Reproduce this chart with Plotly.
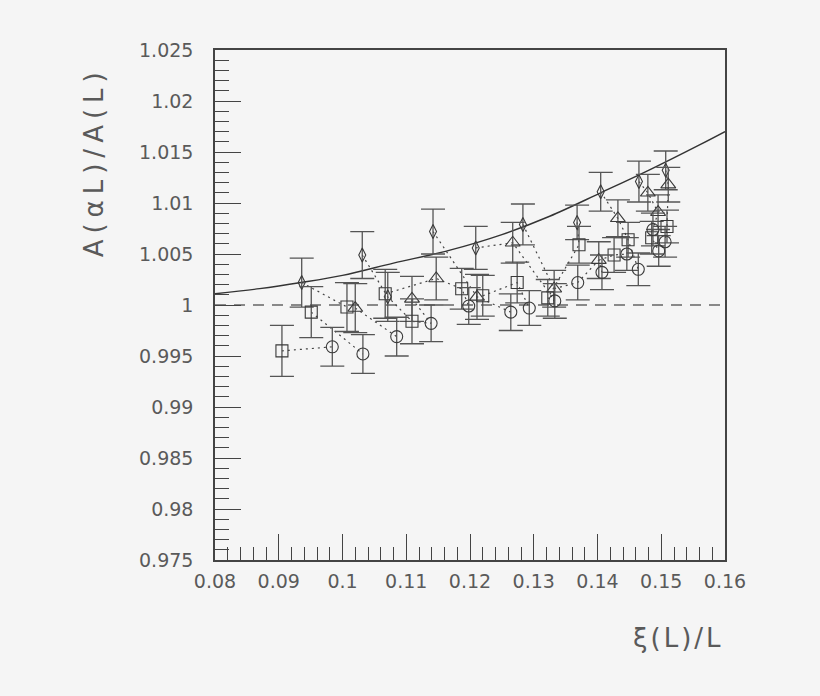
import plotly.graph_objects as go

# ---- data ----
# diamonds
d_x = [0.0936, 0.1031, 0.1071, 0.1142, 0.1209, 0.1283, 0.1368, 0.1405, 0.1465, 0.1507]
d_y = [1.0022, 1.0049, 1.0008, 1.0072, 1.0056, 1.0079, 1.0081, 1.0111, 1.0121, 1.0132]
d_e = [0.0024, 0.0023, 0.0024, 0.0022, 0.0021, 0.0020, 0.0017, 0.0019, 0.0020, 0.0019]
# triangles
t_x = [0.1020, 0.1109, 0.1147, 0.1211, 0.1267, 0.1332, 0.1402, 0.1432, 0.1479, 0.1495, 0.1511]
t_y = [0.9997, 1.0006, 1.0026, 1.0008, 1.0061, 1.0016, 1.0044, 1.0085, 1.0110, 1.0091, 1.0118]
t_e = [0.0024, 0.0022, 0.0021, 0.0022, 0.0020, 0.0018, 0.0018, 0.0018, 0.0018, 0.0017, 0.0017]
# squares
s_x = [0.0905, 0.0951, 0.1007, 0.1067, 0.1109, 0.1187, 0.1220, 0.1274, 0.1322, 0.1371,
       0.1426, 0.1448, 0.1485, 0.1509]
s_y = [0.9955, 0.9993, 0.9998, 1.0011, 0.9984, 1.0016, 1.0009, 1.0022, 1.0007, 1.0059,
       1.0049, 1.0064, 1.0066, 1.0077]
s_e = [0.0025, 0.0025, 0.0024, 0.0024, 0.0022, 0.0020, 0.0020, 0.0020, 0.0018, 0.0018,
       0.0017, 0.0017, 0.0016, 0.0016]
# circles
c_x = [0.0984, 0.1032, 0.1085, 0.1139, 0.1198, 0.1264, 0.1293, 0.1333, 0.1369, 0.1407,
       0.1446, 0.1464, 0.1487, 0.1506, 0.1496]
c_y = [0.9959, 0.9952, 0.9969, 0.9982, 0.9999, 0.9993, 0.9997, 1.0004, 1.0022, 1.0032,
       1.0050, 1.0035, 1.0074, 1.0062, 1.0053]
c_e = [0.0019, 0.0019, 0.0019, 0.0018, 0.0018, 0.0018, 0.0017, 0.0017, 0.0017, 0.0017,
       0.0016, 0.0016, 0.0016, 0.0015, 0.0015]

# solid reference curve (read points)
curve_x = [0.080, 0.087, 0.0935, 0.100, 0.108, 0.117, 0.125, 0.1325, 0.1405, 0.148, 0.156, 0.160]
curve_y = [1.0011, 1.0016, 1.0022, 1.0029, 1.0041, 1.0054, 1.0069, 1.0087, 1.0110, 1.0132, 1.0157, 1.0170]

# dotted connections between points (series key, index)
chains = [
    [("S", 0), ("C", 0)],
    [("D", 0), ("S", 2)],
    [("S", 1), ("C", 1)],
    [("T", 0), ("C", 2)],
    [("D", 1), ("D", 2), ("S", 4), ("C", 3)],
    [("S", 3), ("T", 2), ("S", 5), ("C", 4)],
    [("T", 1), ("C", 3)],
    [("D", 3), ("T", 3), ("C", 5)],
    [("D", 4), ("T", 4), ("C", 7)],
    [("S", 6), ("S", 7), ("C", 6)],
    [("D", 5), ("T", 5)],
    [("D", 6), ("S", 9), ("S", 8), ("C", 7)],
    [("T", 5), ("C", 8), ("T", 6), ("C", 9)],
    [("D", 7), ("T", 7), ("S", 11), ("C", 11)],
    [("T", 6), ("S", 10), ("C", 10)],
    [("D", 8), ("T", 8), ("T", 9), ("C", 12), ("S", 12), ("C", 14)],
    [("D", 9), ("T", 10), ("S", 13), ("C", 13)],
]

x_ticks = [0.08, 0.09, 0.10, 0.11, 0.12, 0.13, 0.14, 0.15, 0.16]
x_labels = ["0.08", "0.09", "0.1", "0.11", "0.12", "0.13", "0.14", "0.15", "0.16"]
y_ticks = [0.975, 0.98, 0.985, 0.99, 0.995, 1.0, 1.005, 1.01, 1.015, 1.02, 1.025]
y_labels = ["0.975", "0.98", "0.985", "0.99", "0.995", "1", "1.005", "1.01", "1.015", "1.02", "1.025"]

series = {
    "D": (d_x, d_y, d_e, "diamond-tall-open", 10),
    "T": (t_x, t_y, t_e, "triangle-up-open", 13),
    "S": (s_x, s_y, s_e, "square-open", 12),
    "C": (c_x, c_y, c_e, "circle-open", 12),
}

INK = "#3a3a3a"
TXT = "#5a5a5a"
FONT = "DejaVu Sans, Liberation Sans, sans-serif"

fig = go.Figure()

# dashed line at 1
fig.add_trace(go.Scatter(x=[x_ticks[0], x_ticks[-1]], y=[1.0, 1.0], mode="lines",
                         line=dict(color="#666666", width=1.3, dash="11px,8px"),
                         hoverinfo="skip", showlegend=False))

# dotted connections
for ch in chains:
    xs = [series[k][0][i] for k, i in ch]
    ys = [series[k][1][i] for k, i in ch]
    fig.add_trace(go.Scatter(x=xs, y=ys, mode="lines",
                             line=dict(color="#444444", width=1.2, dash="2px,4px"),
                             hoverinfo="skip", showlegend=False))

# solid curve
fig.add_trace(go.Scatter(x=curve_x, y=curve_y, mode="lines",
                         line=dict(color="#333333", width=1.4, shape="spline"),
                         showlegend=False))

# markers with error bars
for key, (xs, ys, es, sym, sz) in series.items():
    fig.add_trace(go.Scatter(
        x=xs, y=ys, mode="markers",
        marker=dict(symbol=sym, size=sz, color=INK, line=dict(width=1.1, color=INK)),
        error_y=dict(type="data", array=es, visible=True, color="#555555",
                     thickness=1.3, width=12),
        showlegend=False))

axis_common = dict(
    showgrid=False, zeroline=False, showline=True, linecolor="#444444", linewidth=1.5,
    mirror=True, ticks="inside", tickcolor="#444444", tickwidth=1.2, ticklen=26,
    tickfont=dict(family=FONT, size=19, color=TXT),
)

fig.update_xaxes(range=[0.08, 0.16], tickvals=x_ticks, ticktext=x_labels,
                 minor=dict(ticks="inside", dtick=0.002, ticklen=13, tickcolor="#444444",
                            tickwidth=1.2, showgrid=False),
                 ticklabelstandoff=3, **axis_common)
fig.update_yaxes(range=[0.975, 1.025], tickvals=y_ticks, ticktext=y_labels,
                 minor=dict(ticks="inside", dtick=0.001, ticklen=14, tickcolor="#444444",
                            tickwidth=1.2, showgrid=False),
                 ticklabelstandoff=16, **axis_common)

fig.add_annotation(text="A(αL)/A(L)", xref="paper", yref="paper", x=-0.237, y=0.78,
                   showarrow=False, textangle=-90, xanchor="center", yanchor="middle",
                   font=dict(family=FONT, size=26, color=TXT))
fig.add_annotation(text="ξ(L)/L", xref="paper", yref="paper", x=0.908, y=-0.153,
                   showarrow=False, xanchor="center", yanchor="middle",
                   font=dict(family=FONT, size=26, color=TXT))

fig.update_layout(
    width=820, height=696,
    margin=dict(l=215, r=95, t=50, b=136),
    paper_bgcolor="#f5f5f5", plot_bgcolor="#f5f5f5",
    showlegend=False,
)

post = """
(function(){
  document.documentElement.style.margin='0';
  document.body.style.margin='0';
  document.body.style.padding='0';
  document.body.style.overflow='hidden';
  document.body.style.background='#f5f5f5';
  function sp(){
    var a=document.querySelectorAll('.annotation-text');
    if(a.length>0){a[0].style.letterSpacing='6px';}
    if(a.length>1){a[1].style.letterSpacing='3px';}
  }
  sp(); setTimeout(sp,30); setTimeout(sp,200);
})();
"""

fig.write_html("out.html", post_script=post, config={"displayModeBar": False})
